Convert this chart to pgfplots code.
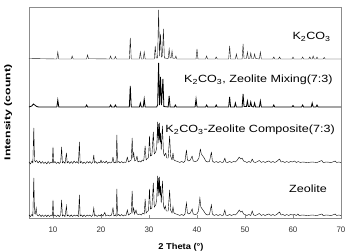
\documentclass[border=0pt]{standalone}
\usepackage{fontspec}
\setmainfont{Liberation Sans}
\usepackage{graphicx}
\usepackage{pgfplots}
\pgfplotsset{compat=1.18}

\definecolor{framegray}{HTML}{8C8C8C}
\definecolor{trace}{HTML}{1A1A1A}

\newcommand{\kco}{K\textsubscript{2}CO\textsubscript{3}}
\newcommand{\lbl}[1]{\scalebox{1.2}[1]{\fontsize{10.5}{12}\selectfont #1}}

\begin{document}
\begin{tikzpicture}
\begin{axis}[
  name=ax,
  scale only axis,
  width=312bp, height=211bp,
  xmin=5, xmax=70, ymin=0, ymax=211,
  xtick={10,20,...,70},
  ytick=\empty,
  xtick pos=bottom,
  tick align=inside,
  major tick length=3bp,
  axis line style={framegray, line width=0.9pt},
  every tick/.style={framegray, line width=0.7pt},
  xticklabel style={font=\fontsize{8}{9}\selectfont, text=black!80, yshift=-5bp},
  /pgf/number format/assume math mode=true,
  xlabel={\scalebox{1.1}[1]{\bfseries 2 Theta (\textdegree)}},
  xlabel style={font=\fontsize{8.5}{10}\selectfont, at={(axis description cs:0.487,-0.137)}, anchor=center},
  ylabel={\scalebox{1.45}[1]{\bfseries Intensity (count)}},
  ylabel style={font=\fontsize{8.5}{10}\selectfont, at={(axis description cs:-0.067,0.5)}, anchor=center},
  cycle list={{trace, line width=0.8pt, line join=round, mark=none}},
  no markers,
  clip=true,
]
% K2CO3
\addplot coordinates {
(5,159.5) (10.8,159) (11,166) (11.2,159) (13.8,159) (14,162) (14.2,159) (17,159) (17.2,163) (17.4,159.3)
(21.8,159) (22,162) (22.2,159) (22.8,159) (23,161.5) (23.2,159) (25.9,159) (26.1,180) (26.3,159)
(28,159) (28.2,166) (28.4,159) (28.8,159) (29,166) (29.2,159) (31.1,159) (31.3,172) (31.5,160)
(31.8,160) (32,208) (32.2,162) (32.4,184) (32.6,161) (32.8,162) (33,189) (33.2,160) (34,159.5)
(34.2,169) (34.4,160) (34.6,160) (34.8,167) (35,159.5) (35.4,159.5) (35.6,162) (35.8,159)
(39.8,159) (40,169) (40.2,159) (41.8,159) (42,162) (42.2,159) (43.8,159) (44,161) (44.2,159)
(46.6,159) (46.8,172) (47,159) (48,159) (48.2,164) (48.4,159) (49.4,159) (49.6,174) (49.8,159.5)
(50.3,159.5) (50.5,166) (50.7,159.5) (51,159.5) (51.2,165) (51.4,159.5) (51.8,159.5) (52,164) (52.2,159.5)
(53,159) (53.2,166) (53.4,159) (55.8,159) (56,161) (56.2,159) (57,159) (57.2,161) (57.4,159)
(59.8,159) (60,161) (60.2,159) (61.8,159) (62,161) (62.2,159) (63.3,159) (63.5,161) (63.7,159)
(64,159) (64.2,162) (64.4,159) (64.8,159) (65,161) (65.2,159) (66.3,159) (66.5,160.5) (66.7,159) (70,159)
};
% K2CO3 + zeolite, physical mixture
\addplot coordinates {
(5,111) (5.6,112) (5.9,114) (6.2,113) (6.6,111.5) (7,111) (10.8,111) (11,118) (11.2,111)
(16.8,111) (17,113) (17.2,111) (21.8,111) (22,113) (22.2,111) (22.8,111) (23,113) (23.2,111)
(25.9,111) (26.1,132) (26.3,111) (28,111) (28.2,115) (28.4,111) (28.8,111) (29,119) (29.2,111)
(31.6,111) (31.8,113) (32,155) (32.2,113) (32.4,141) (32.6,113) (32.9,139) (33.1,111.5)
(34,111) (34.2,122) (34.4,111) (35.3,111) (35.5,113) (35.7,111) (39.6,111) (39.8,119) (40,111)
(41.8,111) (42,113) (42.2,111) (43.8,111) (44,113) (44.2,111) (46.6,111) (46.8,121) (47,111)
(47.8,111) (48,115) (48.2,111) (49.4,111) (49.6,124) (49.8,111.5) (50.3,111.5) (50.5,117) (50.7,111.5)
(51,111.5) (51.2,116) (51.4,111.5) (51.8,111) (52,115) (52.2,111) (53,111) (53.2,117) (53.4,111)
(55.8,111) (56,113) (56.2,111) (59.8,111) (60,112.5) (60.2,111) (61.8,111) (62,113) (62.2,111)
(63.8,111) (64,115) (64.2,111) (64.8,111) (65,113) (65.2,111) (70,111)
};
% K2CO3-zeolite composite
\addplot coordinates {
(5,56) (5.3,54) (5.6,57) (5.8,55) (6.0,90) (6.15,58) (6.3,56) (6.6,57.5) (6.9,55) (7.2,57) (7.5,54.5)
(7.8,56.5) (8.1,54.5) (8.4,56) (8.7,54) (9.0,56.5) (9.3,54.5) (9.6,56) (9.85,55) (10.0,71) (10.15,55)
(10.4,56.5) (10.7,54.5) (11.0,56) (11.3,54.5) (11.6,56) (11.8,71) (11.95,55) (12.2,56.5) (12.5,54.5)
(12.8,65) (12.95,55) (13.2,56.5) (13.5,54.5) (13.8,56.5) (14.1,54.5) (14.4,57) (14.7,55) (15.0,56.5)
(15.3,54.5) (15.5,76) (15.65,55) (15.9,56.5) (16.2,54.5) (16.5,56) (16.8,54.5) (17.1,56.5) (17.4,55)
(17.7,56.5) (18.0,54.5) (18.3,56) (18.5,63) (18.65,55) (18.9,56.5) (19.2,54.5) (19.5,56) (19.8,55)
(20.0,58) (20.2,55) (20.5,56.5) (20.8,55) (21.1,57) (21.4,54.5) (21.7,56) (22.0,55) (22.3,56)
(22.5,61) (22.7,55) (23.0,56) (23.15,55) (23.3,83) (23.45,55.5) (23.7,56.5) (24.0,55) (24.3,56.5)
(24.6,55) (24.9,56) (25.2,55.5) (25.5,61) (25.7,56) (26.0,57) (26.3,58) (26.5,80) (26.65,60)
(26.8,66) (27.0,57) (27.3,58) (27.5,62) (27.7,56) (28.0,57) (28.3,56) (28.6,58) (28.9,57) (29.2,72)
(29.4,58) (29.7,60) (29.9,60) (30.1,82) (30.3,62) (30.6,63) (30.9,86) (31.1,64) (31.4,66) (31.6,70)
(31.8,96) (31.9,75) (32.0,94) (32.1,78) (32.2,95) (32.3,76) (32.4,85) (32.55,68) (32.8,92) (33.0,66)
(33.2,62) (33.5,65) (33.7,60) (34.0,60) (34.3,82) (34.5,62) (34.8,58) (35.0,65) (35.2,58) (35.6,57)
(36.0,56.5) (36.4,55.5) (36.8,56.5) (37.2,55.5) (37.5,57) (37.8,68) (38.0,58) (38.3,57) (38.6,58)
(39.0,62) (39.2,57) (39.6,56.5) (40.0,57) (40.4,60) (40.7,69) (40.9,64) (41.2,62) (41.5,60) (41.8,57)
(42.2,56) (42.6,56.5) (43.0,66) (43.2,57) (43.6,55.5) (44.0,56.5) (44.4,55.5) (44.8,56.5) (45.2,55.5)
(45.5,56) (45.8,60) (46.0,56) (46.4,55.5) (46.8,56.5) (47.2,55.5) (47.6,56.5) (48.0,56) (48.4,58)
(48.8,61) (49.1,59) (49.4,60) (49.7,57) (50.0,56.5) (50.4,55.5) (50.8,56.5) (51.2,55.5) (51.5,59)
(51.8,56) (52.2,55.5) (52.6,56.5) (53.0,57.5) (53.4,55.5) (53.8,56.5) (54.2,55.5) (54.6,56.5) (55.0,57)
(55.4,55.5) (55.8,56.5) (56.2,55.5) (56.6,56.5) (57.2,59) (57.5,56) (57.9,56.5) (58.3,55.5) (58.7,56.5)
(59.1,55.5) (59.5,56.5) (59.9,56) (60.3,57) (60.7,55.5) (61.1,56.5) (61.5,55.5) (62,56) (63,55.5)
(64,56) (65,55.5) (66.0,57.5) (66.3,55.5) (67,56) (68,55.5) (68.8,57) (69.1,55.5) (69.5,56) (70,55.5)
};
% zeolite
\addplot coordinates {
(5,3) (5.3,1.5) (5.6,3.5) (5.8,2) (6.0,40) (6.15,5) (6.3,4) (6.5,10) (6.65,3.5) (6.9,2) (7.2,3.5)
(7.5,1.5) (7.8,3) (8.1,1.5) (8.4,3) (8.7,1.5) (9.0,3) (9.3,1.5) (9.6,3) (9.85,2) (10.0,18) (10.15,2)
(10.4,3) (10.7,1.5) (11.0,3) (11.3,1.5) (11.6,3) (11.8,18) (11.95,2) (12.2,3) (12.5,1.5) (12.8,12)
(12.95,2) (13.2,3) (13.5,1.5) (13.8,3) (14.1,1.5) (14.4,3) (14.7,2) (15.0,3) (15.3,1.5) (15.5,23)
(15.65,2) (15.9,3) (16.2,1.5) (16.5,3) (16.8,1.5) (17.1,3) (17.4,2) (17.7,3) (18.0,1.5) (18.3,3)
(18.5,10) (18.65,2) (18.9,3) (19.2,1.5) (19.5,3) (19.8,2) (20.1,3.5) (20.4,2) (20.8,5.5) (21.0,2)
(21.4,3) (21.8,2) (22.2,3) (22.5,10) (22.7,2) (23.0,3) (23.15,2) (23.3,29) (23.45,2.5) (23.7,3.5)
(24.0,2) (24.3,3.5) (24.6,2) (24.9,3) (25.2,2.5) (25.5,8) (25.7,3) (26.0,4) (26.3,5) (26.5,27)
(26.65,6) (26.8,10) (27.0,4) (27.3,8) (27.5,4) (27.8,3.5) (28.1,4) (28.4,3) (28.7,5) (29.0,4)
(29.2,19) (29.4,5) (29.7,7) (29.9,7) (30.1,29) (30.3,9) (30.6,10) (30.9,35) (31.1,11) (31.4,13)
(31.6,18) (31.8,42) (31.9,22) (32.0,40) (32.1,25) (32.2,41) (32.3,23) (32.4,32) (32.55,15) (32.8,37)
(33.0,13) (33.2,9) (33.4,12) (33.6,7) (34.0,7) (34.3,28) (34.5,8) (34.8,5) (35.0,11) (35.2,5)
(35.6,4) (36.0,3.5) (36.4,2.5) (36.8,3.5) (37.2,2.5) (37.5,4) (37.8,15) (38.0,5) (38.3,4) (38.6,5)
(39.0,9) (39.2,4) (39.6,3.5) (40.0,4) (40.3,7) (40.6,20) (40.8,11) (41.1,9) (41.4,7) (41.8,4)
(42.2,3) (42.6,3.5) (43.0,13) (43.2,4) (43.6,2.5) (44.0,3.5) (44.4,2.5) (44.8,3.5) (45.2,2.5)
(45.5,3) (45.8,8) (46.0,3) (46.4,2.5) (46.8,3.5) (47.2,2.5) (47.6,3.5) (48.0,3) (48.4,5) (48.8,8)
(49.1,6) (49.4,7) (49.7,4) (50.0,3.5) (50.4,2.5) (50.8,3.5) (51.2,2.5) (51.5,7) (51.8,3) (52.2,2.5)
(52.6,3.5) (53.0,4.5) (53.4,2.5) (53.8,3.5) (54.2,2.5) (54.6,3.5) (55.0,4) (55.4,2.5) (55.8,3.5)
(56.2,2.5) (56.6,3.5) (57.2,6) (57.5,3) (57.9,3.5) (58.3,2.5) (58.7,3.5) (59.1,2.5) (59.5,3.5)
(59.9,3) (60.3,3.5) (60.7,2.5) (61.0,4) (61.3,2.5) (62,3) (63,2.5) (64,3) (65,2.5) (66.0,4)
(66.3,2.5) (67,3) (68,2.5) (68.8,4) (69.1,2.5) (69.5,3) (70,2.5)
};
% series names
\node[anchor=east, inner sep=0pt] at (axis cs:67.9,181) {\lbl{\kco}};
\node[anchor=east, inner sep=0pt] at (axis cs:68.3,138) {\lbl{\kco, Zeolite Mixing(7:3)}};
\node[anchor=east, inner sep=0pt] at (axis cs:68.75,88) {\lbl{\kco-Zeolite Composite(7:3)}};
\node[anchor=east, inner sep=0pt] at (axis cs:67.1,29) {\lbl{Zeolite}};
\end{axis}
\pgfresetboundingbox
\path[use as bounding box] ([xshift=-29bp,yshift=-33bp]ax.south west) rectangle ([xshift=8bp,yshift=7bp]ax.north east);
\end{tikzpicture}
\end{document}
